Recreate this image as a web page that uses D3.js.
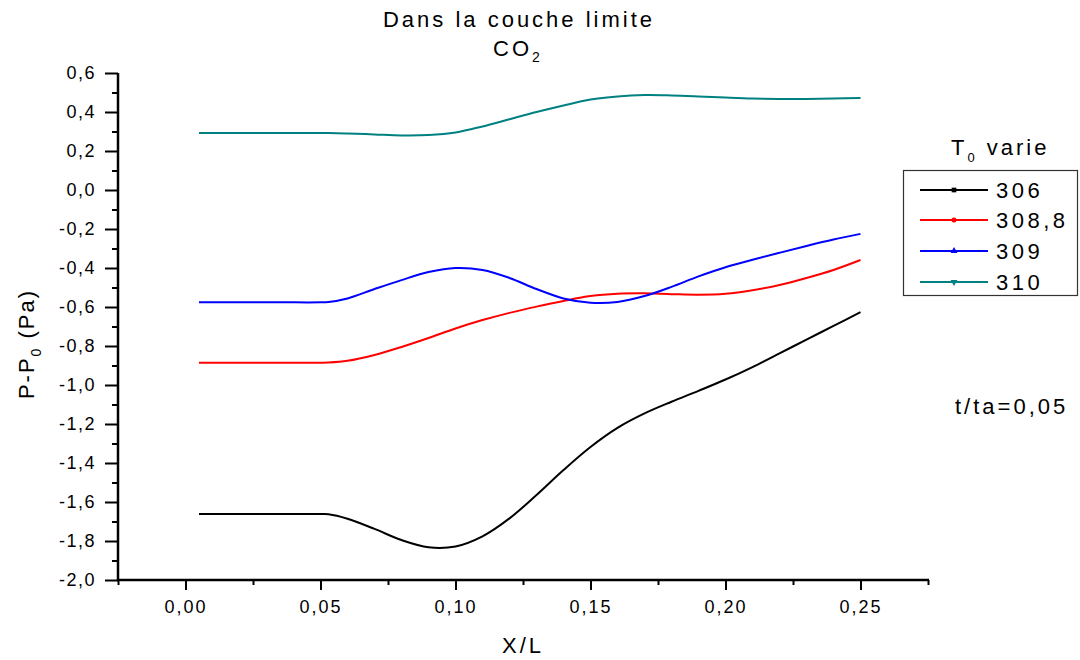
<!DOCTYPE html>
<html>
<head>
<meta charset="utf-8">
<script src="https://cdn.jsdelivr.net/npm/d3@7"></script>
<style>
  body { margin: 0; background: #fff; }
  svg text { font-family: "Liberation Sans", Arial, sans-serif; fill: #000; }
</style>
</head>
<body>
<svg id="chart" width="1080" height="660"></svg>
<script>
// Abscissa X/L shared by all curves
const xs = [0.005, 0.02, 0.035, 0.05, 0.053, 0.06, 0.07, 0.08, 0.09, 0.10, 0.11, 0.12, 0.13, 0.14,
            0.15, 0.16, 0.17, 0.18, 0.19, 0.20, 0.21, 0.22, 0.23, 0.24, 0.25];

// P - P0 (Pa) for each initial temperature T0
const p306 = [-1.662, -1.662, -1.662, -1.662, -1.663, -1.686, -1.738, -1.795, -1.832, -1.828, -1.776, -1.684, -1.564, -1.436,
              -1.318, -1.220, -1.146, -1.086, -1.030, -0.972, -0.908, -0.838, -0.767, -0.697, -0.626];
const p3088 = [-0.886, -0.886, -0.886, -0.886, -0.885, -0.876, -0.846, -0.805, -0.759, -0.710, -0.667, -0.630, -0.598, -0.569,
               -0.544, -0.532, -0.530, -0.534, -0.537, -0.532, -0.514, -0.487, -0.451, -0.410, -0.359];
const p309 = [-0.576, -0.576, -0.576, -0.576, -0.574, -0.556, -0.508, -0.462, -0.421, -0.400, -0.410, -0.451, -0.508, -0.556,
              -0.578, -0.574, -0.544, -0.497, -0.443, -0.396, -0.358, -0.322, -0.287, -0.254, -0.225];
const p310 = [0.292, 0.292, 0.292, 0.292, 0.292, 0.290, 0.285, 0.280, 0.282, 0.295, 0.326, 0.363, 0.400, 0.433,
              0.464, 0.480, 0.487, 0.485, 0.480, 0.474, 0.469, 0.467, 0.467, 0.469, 0.472];

const seriesNames = ["306", "308,8", "309", "310"];
const seriesValues = [p306, p3088, p309, p310];
const seriesColors = ["#000000", "#ff0000", "#0000ff", "#008080"];
const seriesMarkers = [d3.symbolSquare, d3.symbolCircle, d3.symbolTriangle, "down"];

const xTickValues = [0.00, 0.05, 0.10, 0.15, 0.20, 0.25];
const yTickValues = [-2.0, -1.8, -1.6, -1.4, -1.2, -1.0, -0.8, -0.6, -0.4, -0.2, 0.0, 0.2, 0.4, 0.6];

const svg = d3.select("#chart");
const plotLeft = 118, plotTop = 73, plotRight = 928, plotBottom = 580;

const x = d3.scaleLinear().domain([-0.025, 0.275]).range([plotLeft, plotRight]);
const y = d3.scaleLinear().domain([-2.0, 0.6]).range([plotBottom, plotTop]);

const fmt = (d, n) => d3.format("." + n + "f")(d).replace(".", ",").replace("−", "-");

// Curves
const line = d3.line().x(d => x(d[0])).y(d => y(d[1])).curve(d3.curveCatmullRom.alpha(0.5));
seriesValues.forEach((vals, i) => {
  svg.append("path")
    .datum(xs.map((xv, k) => [xv, vals[k]]))
    .attr("d", line)
    .attr("fill", "none")
    .attr("stroke", seriesColors[i])
    .attr("stroke-width", 2);
});

// X axis
const xMinor = d3.range(-0.025, 0.2751, 0.05);
const xAxisG = svg.append("g").attr("transform", `translate(0,${plotBottom})`);
xAxisG.append("g").call(d3.axisBottom(x).tickValues(xMinor).tickSize(5).tickFormat(""));
xAxisG.append("g").call(d3.axisBottom(x).tickValues(xTickValues).tickSize(10).tickPadding(10).tickFormat(d => fmt(d, 2)));
xAxisG.selectAll(".domain").remove();
xAxisG.append("line").attr("x1", plotLeft - 1).attr("x2", plotRight + 1).attr("stroke", "#000").attr("stroke-width", 2.5);
xAxisG.selectAll(".tick line").attr("stroke", "#000").attr("stroke-width", 2);
xAxisG.selectAll(".tick text").attr("font-size", 18).style("letter-spacing", "2px")
  .attr("font-family", "Liberation Sans, Arial, sans-serif");

// Y axis
const yMinor = d3.range(-1.9, 0.6, 0.2);
const yAxisG = svg.append("g").attr("transform", `translate(${plotLeft},0)`);
yAxisG.append("g").call(d3.axisLeft(y).tickValues(yMinor).tickSize(6).tickFormat(""));
yAxisG.append("g").call(d3.axisLeft(y).tickValues(yTickValues).tickSize(13).tickPadding(9).tickFormat(d => fmt(d, 1)));
yAxisG.selectAll(".domain").remove();
yAxisG.append("line").attr("y1", plotTop).attr("y2", plotBottom + 1).attr("stroke", "#000").attr("stroke-width", 2.5);
yAxisG.selectAll(".tick line").attr("stroke", "#000").attr("stroke-width", 2);
yAxisG.selectAll(".tick text").attr("font-size", 18).style("letter-spacing", "1.5px")
  .attr("font-family", "Liberation Sans, Arial, sans-serif");

// Title
svg.append("text").attr("x", 519).attr("y", 27).attr("text-anchor", "middle")
  .attr("font-size", 22).style("letter-spacing", "3px").text("Dans la couche limite");
const co2 = svg.append("text").attr("x", 518).attr("y", 56).attr("text-anchor", "middle")
  .attr("font-size", 22).style("letter-spacing", "3px");
co2.append("tspan").text("CO");
co2.append("tspan").attr("font-size", 14).attr("dy", 6).text("2");

// Axis titles
svg.append("text").attr("x", 523).attr("y", 653).attr("text-anchor", "middle")
  .attr("font-size", 22).style("letter-spacing", "3px").text("X/L");
const yl = svg.append("text").attr("transform", "translate(34,344) rotate(-90)")
  .attr("text-anchor", "middle").attr("font-size", 22).style("letter-spacing", "2px");
yl.append("tspan").text("P-P");
yl.append("tspan").attr("font-size", 14).attr("dy", 7).text("0");
yl.append("tspan").attr("dy", -7).text(" (Pa)");

// Legend
const lt = svg.append("text").attr("x", 951).attr("y", 155).attr("font-size", 22).style("letter-spacing", "3px");
lt.append("tspan").text("T");
lt.append("tspan").attr("font-size", 13).attr("dy", 7).text("0");
lt.append("tspan").attr("dy", -7).text(" varie");

svg.append("rect").attr("x", 903.5).attr("y", 170.5).attr("width", 174).attr("height", 125)
  .attr("fill", "none").attr("stroke", "#333").attr("stroke-width", 1.2);

const rowY = [190, 220, 251, 282];
seriesNames.forEach((name, i) => {
  const g = svg.append("g");
  g.append("line").attr("x1", 920).attr("x2", 988).attr("y1", rowY[i]).attr("y2", rowY[i])
    .attr("stroke", seriesColors[i]).attr("stroke-width", 2);
  const m = seriesMarkers[i];
  const sym = d3.symbol().type(m === "down" ? d3.symbolTriangle : m).size(m === d3.symbolSquare ? 22 : 20);
  g.append("path").attr("d", sym())
    .attr("transform", `translate(954,${rowY[i]})` + (m === "down" ? " rotate(180)" : ""))
    .attr("fill", seriesColors[i]);
  g.append("text").attr("x", 996).attr("y", rowY[i] + 8).attr("font-size", 22)
    .style("letter-spacing", "3.5px").text(name);
});

// Time annotation
svg.append("text").attr("x", 955).attr("y", 414).attr("font-size", 22)
  .style("letter-spacing", "3px").text("t/ta=0,05");
</script>
</body>
</html>
